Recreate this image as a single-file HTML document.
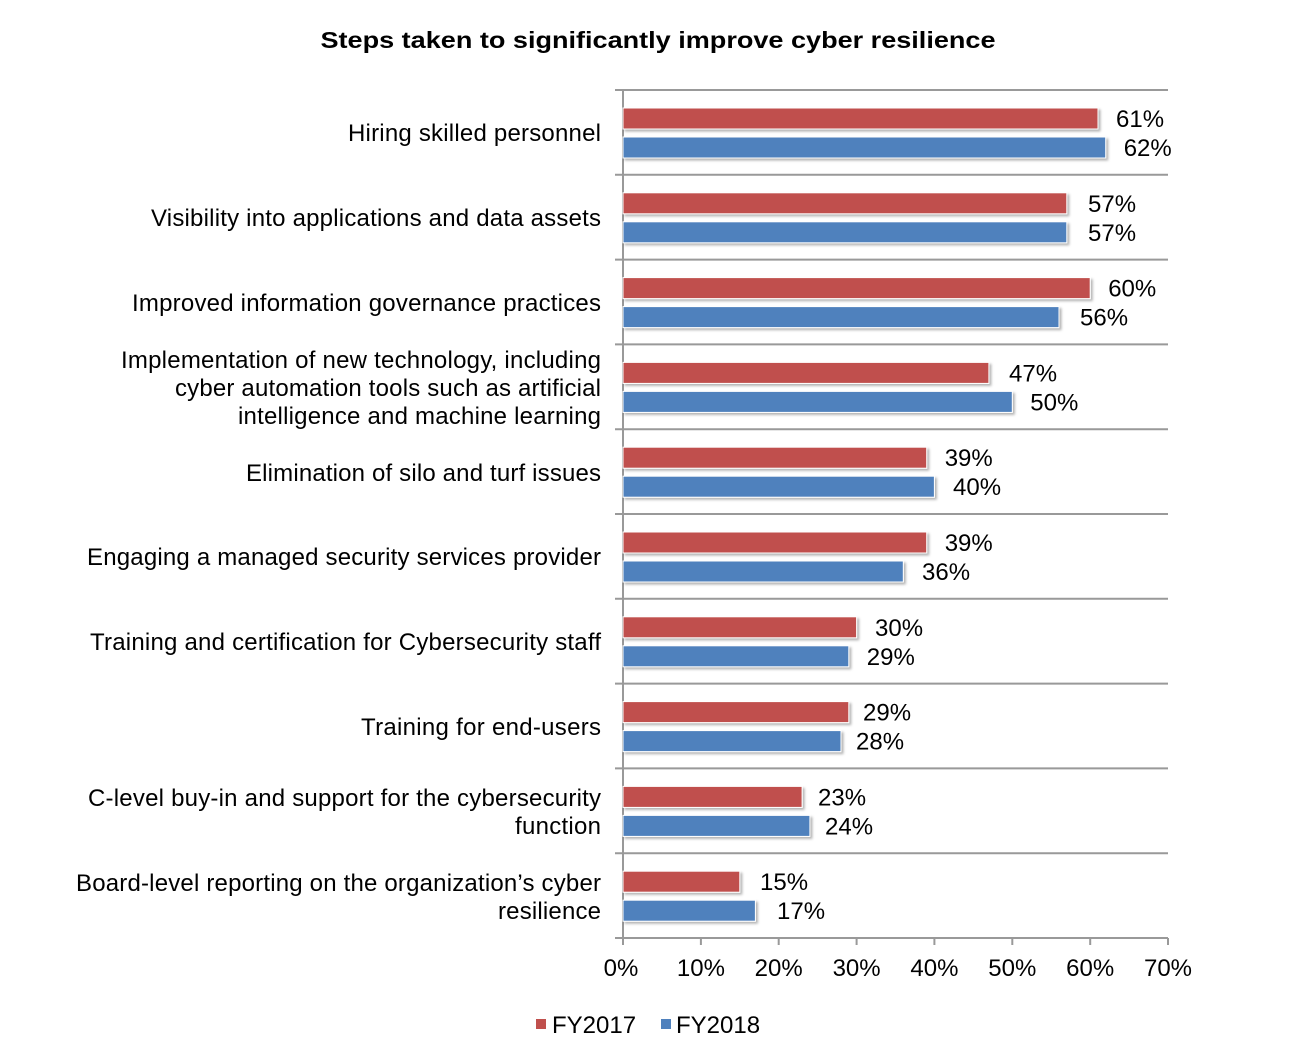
<!DOCTYPE html>
<html><head><meta charset="utf-8"><style>
html,body{margin:0;padding:0;background:#fff;}
svg text{font-family:"Liberation Sans",Arial,sans-serif;fill:#000;}
</style></head><body>
<svg width="1312" height="1049" viewBox="0 0 1312 1049" xmlns="http://www.w3.org/2000/svg">
<defs><filter id="sh" x="-5%" y="-30%" width="110%" height="180%"><feDropShadow dx="2" dy="2" stdDeviation="1.2" flood-color="#000" flood-opacity="0.3"/></filter></defs>
<text x="658" y="48" text-anchor="middle" font-size="23" font-weight="bold" textLength="675" lengthAdjust="spacingAndGlyphs">Steps taken to significantly improve cyber resilience</text>
<g stroke="#999" stroke-width="2">
<line x1="615" y1="90" x2="1168" y2="90"/>
<line x1="615" y1="174.8" x2="1168" y2="174.8"/>
<line x1="615" y1="259.6" x2="1168" y2="259.6"/>
<line x1="615" y1="344.4" x2="1168" y2="344.4"/>
<line x1="615" y1="429.2" x2="1168" y2="429.2"/>
<line x1="615" y1="514" x2="1168" y2="514"/>
<line x1="615" y1="598.8" x2="1168" y2="598.8"/>
<line x1="615" y1="683.6" x2="1168" y2="683.6"/>
<line x1="615" y1="768.4" x2="1168" y2="768.4"/>
<line x1="615" y1="853.2" x2="1168" y2="853.2"/>
<line x1="615" y1="938" x2="1168" y2="938"/>
<line x1="623" y1="90" x2="623" y2="945"/>
<line x1="700.9" y1="938" x2="700.9" y2="945"/>
<line x1="778.7" y1="938" x2="778.7" y2="945"/>
<line x1="856.6" y1="938" x2="856.6" y2="945"/>
<line x1="934.4" y1="938" x2="934.4" y2="945"/>
<line x1="1012.3" y1="938" x2="1012.3" y2="945"/>
<line x1="1090.2" y1="938" x2="1090.2" y2="945"/>
<line x1="1168" y1="938" x2="1168" y2="945"/>
</g>
<g filter="url(#sh)" stroke="#fff" stroke-width="1">
<rect x="623" y="108" width="475" height="21" fill="#c0504d"/>
<rect x="623" y="137" width="482.7" height="21" fill="#4f81bd"/>
<rect x="623" y="192.8" width="443.8" height="21" fill="#c0504d"/>
<rect x="623" y="221.8" width="443.8" height="21" fill="#4f81bd"/>
<rect x="623" y="277.6" width="467.2" height="21" fill="#c0504d"/>
<rect x="623" y="306.6" width="436" height="21" fill="#4f81bd"/>
<rect x="623" y="362.4" width="365.9" height="21" fill="#c0504d"/>
<rect x="623" y="391.4" width="389.3" height="21" fill="#4f81bd"/>
<rect x="623" y="447.2" width="303.7" height="21" fill="#c0504d"/>
<rect x="623" y="476.2" width="311.4" height="21" fill="#4f81bd"/>
<rect x="623" y="532" width="303.7" height="21" fill="#c0504d"/>
<rect x="623" y="561" width="280.3" height="21" fill="#4f81bd"/>
<rect x="623" y="616.8" width="233.6" height="21" fill="#c0504d"/>
<rect x="623" y="645.8" width="225.8" height="21" fill="#4f81bd"/>
<rect x="623" y="701.6" width="225.8" height="21" fill="#c0504d"/>
<rect x="623" y="730.6" width="218" height="21" fill="#4f81bd"/>
<rect x="623" y="786.4" width="179.1" height="21" fill="#c0504d"/>
<rect x="623" y="815.4" width="186.9" height="21" fill="#4f81bd"/>
<rect x="623" y="871.2" width="116.8" height="21" fill="#c0504d"/>
<rect x="623" y="900.2" width="132.4" height="21" fill="#4f81bd"/>
</g>
<g font-size="24">
<text x="1116" y="127">61%</text><text x="1123.7" y="156">62%</text>
<text x="1088" y="211.8">57%</text><text x="1088" y="240.8">57%</text>
<text x="1108.2" y="296.6">60%</text><text x="1080" y="325.6">56%</text>
<text x="1009" y="381.4">47%</text><text x="1030.3" y="410.4">50%</text>
<text x="944.7" y="466.2">39%</text><text x="953" y="495.2">40%</text>
<text x="944.7" y="551">39%</text><text x="922" y="580">36%</text>
<text x="875" y="635.8">30%</text><text x="866.8" y="664.8">29%</text>
<text x="863" y="720.6">29%</text><text x="856" y="749.6">28%</text>
<text x="818" y="805.4">23%</text><text x="825" y="834.4">24%</text>
<text x="760" y="890.2">15%</text><text x="777" y="919.2">17%</text>
</g>
<g font-size="24" text-anchor="end" lengthAdjust="spacingAndGlyphs">
<text x="601" y="141" textLength="253">Hiring skilled personnel</text>
<text x="601" y="226" textLength="450">Visibility into applications and data assets</text>
<text x="601" y="311" textLength="469">Improved information governance practices</text>
<text x="601" y="368" textLength="480">Implementation of new technology, including</text>
<text x="601" y="396" textLength="426">cyber automation tools such as artificial</text>
<text x="601" y="424" textLength="363">intelligence and machine learning</text>
<text x="601" y="481" textLength="355">Elimination of silo and turf issues</text>
<text x="601" y="565" textLength="514">Engaging a managed security services provider</text>
<text x="601" y="650" textLength="511">Training and certification for Cybersecurity staff</text>
<text x="601" y="735" textLength="240">Training for end-users</text>
<text x="601" y="806" textLength="513">C-level buy-in and support for the cybersecurity</text>
<text x="601" y="834" textLength="86">function</text>
<text x="601" y="891" textLength="525">Board-level reporting on the organization’s cyber</text>
<text x="601" y="919" textLength="103">resilience</text>
</g>
<g font-size="24" text-anchor="middle">
<text x="621" y="976">0%</text>
<text x="700.9" y="976">10%</text>
<text x="778.7" y="976">20%</text>
<text x="856.6" y="976">30%</text>
<text x="934.4" y="976">40%</text>
<text x="1012.3" y="976">50%</text>
<text x="1090.2" y="976">60%</text>
<text x="1168" y="976">70%</text>
</g>
<rect x="536" y="1019" width="10" height="10" fill="#c0504d"/>
<text x="552" y="1033" font-size="24">FY2017</text>
<rect x="661" y="1019" width="10" height="10" fill="#4f81bd"/>
<text x="676" y="1033" font-size="24">FY2018</text>
</svg>
</body></html>
